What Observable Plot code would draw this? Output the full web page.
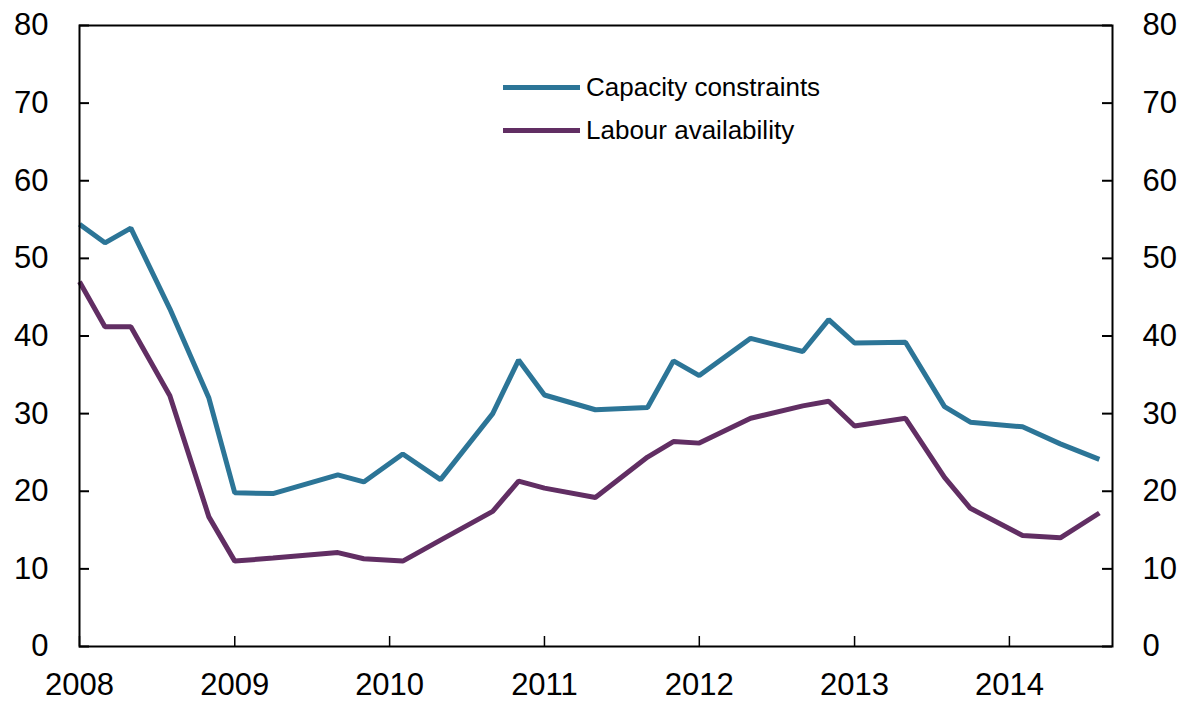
<!DOCTYPE html>
<html>
<head>
<meta charset="utf-8">
<script src="https://cdn.jsdelivr.net/npm/d3@7"></script>
<script src="https://cdn.jsdelivr.net/npm/@observablehq/plot@0.6"></script>
<style>
  html, body { margin: 0; padding: 0; background: #fff; }
  #wrap { position: relative; width: 1181px; height: 704px; font-family: "Liberation Sans", Arial, Helvetica, sans-serif; }
  #legend { position: absolute; left: 503px; top: 66px; font-size: 26px; color: #000; }
  .item { display: flex; align-items: center; height: 43px; }
  .swatch { width: 77px; height: 5px; margin-right: 6px; }
</style>
</head>
<body>
<div id="wrap"></div>
<script>
// Survey rounds (month of each observation)
const dates = ["2008-01-01","2008-03-01","2008-05-01","2008-08-01","2008-11-01",
  "2009-01-01","2009-04-01","2009-09-01","2009-11-01",
  "2010-02-01","2010-05-01","2010-09-01","2010-11-01",
  "2011-01-01","2011-05-01","2011-09-01","2011-11-01",
  "2012-01-01","2012-05-01","2012-09-01","2012-11-01",
  "2013-01-01","2013-05-01","2013-08-01","2013-10-01",
  "2014-02-01","2014-05-01","2014-08-01"];
const capacity = [54.4, 52.0, 53.9, 43.5, 32.0,
  19.8, 19.7, 22.1, 21.2,
  24.8, 21.5, 30.0, 36.9,
  32.4, 30.5, 30.8, 36.8,
  34.9, 39.7, 38.0, 42.1,
  39.1, 39.2, 30.9, 28.9,
  28.3, 26.1, 24.1];
const labour = [47.0, 41.2, 41.2, 32.3, 16.7,
  11.0, 11.4, 12.1, 11.3,
  11.0, 13.7, 17.4, 21.3,
  20.4, 19.2, 24.4, 26.4,
  26.2, 29.4, 31.0, 31.6,
  28.4, 29.4, 21.8, 17.8,
  14.3, 14.0, 17.2];
const seriesNames = ["Capacity constraints", "Labour availability"];
const seriesColors = ["#2c7597", "#612e63"];
const yTicks = [0, 10, 20, 30, 40, 50, 60, 70, 80];
const xTickYears = [2008, 2009, 2010, 2011, 2012, 2013, 2014];
const xDomain = ["2008-01-01", "2014-09-01"];

const parse = d3.utcParse("%Y-%m-%d");
const rows = [];
dates.forEach((d, i) => {
  rows.push({date: parse(d), value: capacity[i], series: seriesNames[0]});
  rows.push({date: parse(d), value: labour[i], series: seriesNames[1]});
});
const yearDates = xTickYears.map(y => new Date(Date.UTC(y, 0, 1)));

const W = 1181, H = 704;
const mL = 79, mR = 69, mT = 25, mB = 58;
const innerW = W - mL - mR, innerH = H - mT - mB;
const tickLen = 10;
const font = "Liberation Sans, Arial, Helvetica, sans-serif";

const chart = Plot.plot({
  width: W, height: H,
  marginLeft: mL, marginRight: mR, marginTop: mT, marginBottom: mB,
  style: {fontFamily: font, background: "#fff", color: "#000"},
  x: {type: "utc", domain: xDomain.map(parse), axis: null},
  y: {domain: [0, 80], axis: null},
  color: {domain: seriesNames, range: seriesColors},
  marks: [
    // inward ticks
    Plot.ruleY(yTicks, {y: d => d, insetRight: innerW - tickLen, stroke: "#000", strokeWidth: 2}),
    Plot.ruleY(yTicks, {y: d => d, insetLeft: innerW - tickLen, stroke: "#000", strokeWidth: 2}),
    Plot.ruleX(yearDates, {x: d => d, insetTop: innerH - tickLen, stroke: "#000", strokeWidth: 1.5}),
    // lines
    Plot.line(rows, {x: "date", y: "value", z: "series", stroke: "series", strokeWidth: 5, strokeLinejoin: "miter", strokeLinecap: "butt"}),
    // frame
    Plot.frame({stroke: "#000", strokeWidth: 2}),
    // tick labels
    Plot.text(yTicks, {y: d => d, text: d => String(d), frameAnchor: "left", dx: -31, textAnchor: "end", fontSize: 31, fill: "#000"}),
    Plot.text(yTicks, {y: d => d, text: d => String(d), frameAnchor: "right", dx: 30, textAnchor: "start", fontSize: 31, fill: "#000"}),
    Plot.text(yearDates, {x: d => d, text: d => String(d.getUTCFullYear()), frameAnchor: "bottom", dy: 48, fontSize: 31, fill: "#000"})
  ]
});

const wrap = document.getElementById("wrap");
wrap.appendChild(chart);

const legend = document.createElement("div");
legend.id = "legend";
seriesNames.forEach((name, i) => {
  const item = document.createElement("div");
  item.className = "item";
  const sw = document.createElement("span");
  sw.className = "swatch";
  sw.style.background = seriesColors[i];
  const label = document.createElement("span");
  label.textContent = name;
  item.appendChild(sw);
  item.appendChild(label);
  legend.appendChild(item);
});
wrap.appendChild(legend);
</script>
</body>
</html>
